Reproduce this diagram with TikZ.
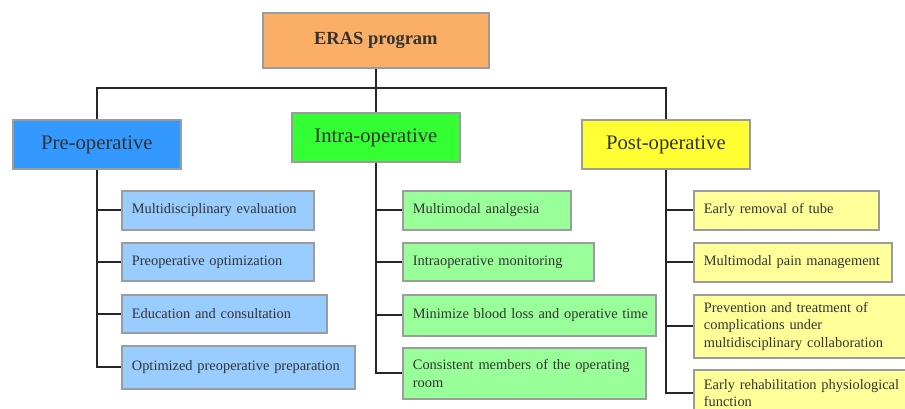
\documentclass[tikz,border=0pt]{standalone}
\usepackage{fontspec}
\setmainfont{Liberation Serif}
\definecolor{txt}{HTML}{333333}
\definecolor{bord}{HTML}{9C9C9C}
\definecolor{cOrange}{HTML}{FBAF66}
\definecolor{cBlue}{HTML}{3399FF}
\definecolor{cGreen}{HTML}{33FF33}
\definecolor{cYellow}{HTML}{FFFF33}
\definecolor{lBlue}{HTML}{99CCFF}
\definecolor{lGreen}{HTML}{99FF99}
\definecolor{lYellow}{HTML}{FFFF99}
\tikzset{
  box/.style={draw=bord, line width=1.8pt, rectangle, anchor=north west, inner sep=0pt, text=txt},
  head/.style={box, font=\fontsize{20.7}{24}\selectfont, align=center},
  item/.style={box, font=\fontsize{14.4}{17.5}\selectfont, align=left, inner xsep=10pt},
  link/.style={draw=black!85, line width=2pt}
}
\begin{document}
\begin{tikzpicture}[x=1pt,y=-1pt]
\useasboundingbox (0,0) rectangle (905,409);
\clip (0,0) rectangle (905,409);
% top
\node[box, fill=cOrange, minimum width=226pt, minimum height=55pt, font=\fontsize{18.5}{22}\selectfont\bfseries] (top) at (262,12) {ERAS program};
\node[head, fill=cBlue, minimum width=168pt, minimum height=49pt] (pre) at (12,119) {Pre-operative};
\node[head, fill=cGreen, minimum width=168pt, minimum height=49pt] (intra) at (291,112) {Intra-operative};
\node[head, fill=cYellow, minimum width=168pt, minimum height=49pt] (post) at (581,119) {Post-operative};
\coordinate (bar) at (375,88);
% pre children
\node[item, fill=lBlue, text width=172pt, minimum height=39pt] (p1) at (121,190) {Multidisciplinary evaluation};
\node[item, fill=lBlue, text width=172pt, minimum height=38pt] (p2) at (121,242) {Preoperative optimization};
\node[item, fill=lBlue, text width=185pt, minimum height=38pt] (p3) at (121,294) {Education and consultation};
\node[item, fill=lBlue, text width=213pt, minimum height=43pt] (p4) at (121,345) {Optimized preoperative preparation};
% intra children
\node[item, fill=lGreen, text width=148pt, minimum height=39pt] (i1) at (402,190) {Multimodal analgesia};
\node[item, fill=lGreen, text width=171pt, minimum height=38pt] (i2) at (402,242) {Intraoperative monitoring};
\node[item, fill=lGreen, text width=233pt, minimum height=41pt] (i3) at (402,294) {\mbox{Minimize blood loss and operative time}};
\node[item, fill=lGreen, text width=223pt, minimum height=51pt] (i4) at (402,347) {Consistent members of the operating\\room};
% post children
\node[item, fill=lYellow, text width=165pt, minimum height=39pt] (q1) at (693,190) {Early removal of tube};
\node[item, fill=lYellow, text width=178pt, minimum height=39pt] (q2) at (693,242) {Multimodal pain management};
\node[item, fill=lYellow, text width=200pt, minimum height=63pt] (q3) at (693,294) {Prevention and treatment of\\complications under\\multidisciplinary collaboration};
\node[item, fill=lYellow, text width=200pt, minimum height=46pt] (q4) at (693,369) {Early rehabilitation physiological\\function};
% top connectors
\draw[link] (top.south) -- (intra.north);
\draw[link] (pre.north) |- (bar) -| (post.north);
% pre
\draw[link] (pre.south) |- (p4.west);
\foreach \c in {p1,p2,p3} \draw[link] (pre.south |- \c.west) -- (\c.west);
% intra
\draw[link] (intra.south) |- (i4.west);
\foreach \c in {i1,i2,i3} \draw[link] (intra.south |- \c.west) -- (\c.west);
% post
\draw[link] (post.south) |- (q4.west);
\foreach \c in {q1,q2,q3} \draw[link] (post.south |- \c.west) -- (\c.west);
\end{tikzpicture}
\end{document}
